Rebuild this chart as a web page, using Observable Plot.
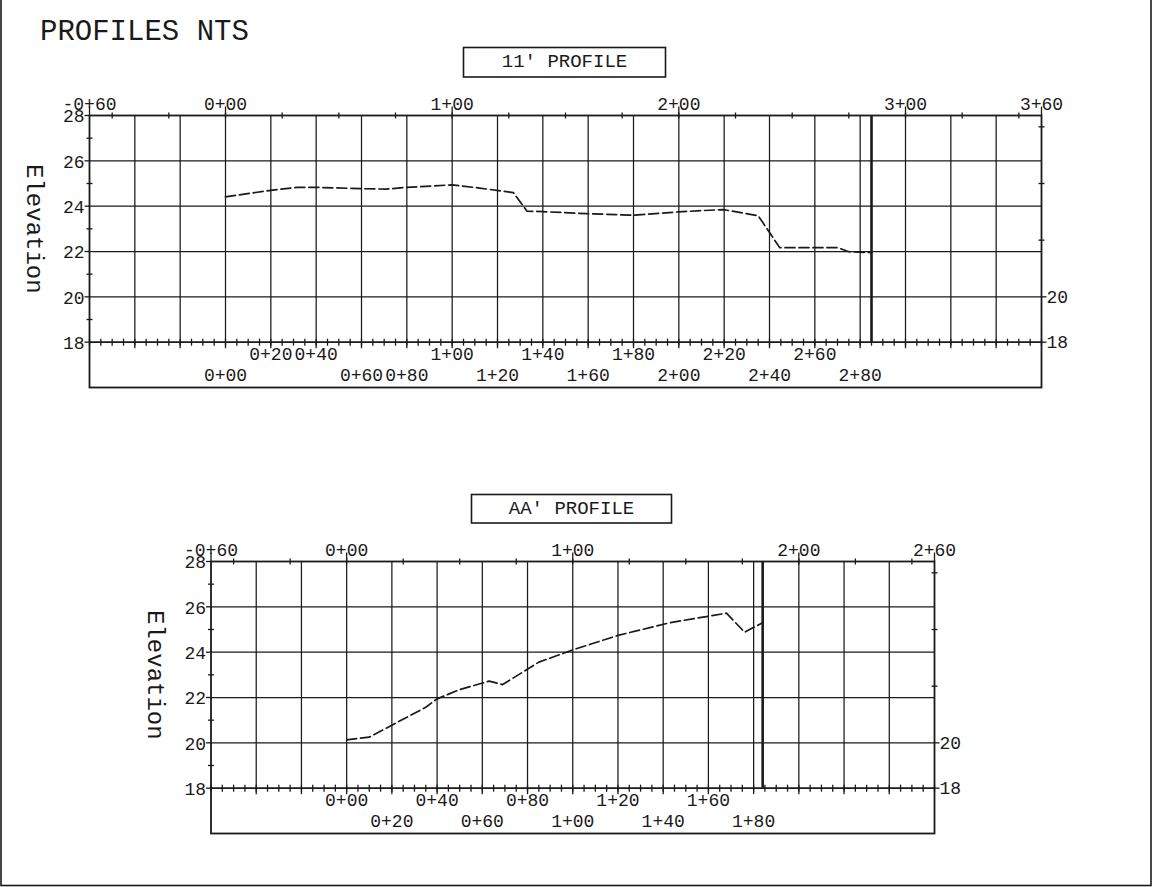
<!DOCTYPE html>
<html>
<head>
<meta charset="utf-8">
<script src="https://cdn.jsdelivr.net/npm/d3@7"></script>
<script src="https://cdn.jsdelivr.net/npm/@observablehq/plot@0.6"></script>
<style>
  html, body { margin: 0; padding: 0; background: #fff; }
  #page { position: relative; width: 1159px; height: 887px; overflow: hidden; background: #fff; }
  #page > svg.overlay { position: absolute; left: 0; top: 0; }
  .plotwrap { position: absolute; left: 0; }
</style>
</head>
<body>
<div id="page"></div>
<script>
// ---------------- DATA ----------------
const pageTitle = "PROFILES NTS";
const topTitle = "11' PROFILE";
const bottomTitle = "AA' PROFILE";
const yAxisLabel = "Elevation";

// 11' profile (station in ft, elevation)
const topStations = [0, 20, 31.6, 40, 61, 71, 80, 100, 112, 127, 133, 140, 159, 180, 200, 219.5, 235, 244.5, 270, 275, 285];
const topElev     = [24.41, 24.7, 24.83, 24.83, 24.77, 24.75, 24.83, 24.94, 24.8, 24.6, 23.78, 23.76, 23.67, 23.6, 23.75, 23.85, 23.58, 22.17, 22.17, 21.99, 21.95];
const topEnd = [285];

// AA' profile
const botStations = [0, 10, 35, 40, 50, 63, 69, 85, 100, 120, 143, 168, 176, 184];
const botElev     = [20.13, 20.25, 21.57, 21.94, 22.35, 22.72, 22.57, 23.56, 24.1, 24.74, 25.3, 25.72, 24.88, 25.3];
const botEnd = [184];

// station ranges
const topDomain = [-60, 360];
const botDomain = [-60, 260];

// tick label stations
const topTopLabels = [-60, 0, 100, 200, 300, 360];
const botTopLabels = [-60, 0, 100, 200, 260];
const topRowA = [20, 40, 100, 140, 180, 220, 260];
const topRowB = [0, 60, 80, 120, 160, 200, 240, 280];
const botRowA = [0, 40, 80, 120, 160];
const botRowB = [20, 60, 100, 140, 180];

const leftElevLabels = [18, 20, 22, 24, 26, 28];
const leftMinorTicks = [19, 21, 23, 25, 27];
const rightElevLabels = [18, 20];
const rightMinorTicks = [22.5, 25, 27.5];
const gridElev = [20, 22, 24, 26];
const elevDomain = [16, 28];   // frame includes the label box below elevation 18
const axisElev = 18;
const topElevFrame = 28;

// ---------------- HELPERS ----------------
const INK = "#1a1a1a";
const MONO = "Liberation Mono, DejaVu Sans Mono, monospace";
const fmtStation = s => {
  const a = Math.abs(s);
  return (s < 0 ? "-" : "") + Math.floor(a / 100) + "+" + String(a % 100).padStart(2, "0");
};
const seg = (x1, y1, x2, y2) => ({ draw(ctx) { ctx.moveTo(x1, y1); ctx.lineTo(x2, y2); } });

function profilePlot({domain, stations, elev, end, topLabels, rowA, rowB, marginLeft, marginRight}) {
  const [x0, x1] = domain;
  const grid20 = d3.range(x0 + 20, x1, 20);
  const ticks5 = d3.range(x0, x1 + 0.001, 5);
  const ticks25 = d3.range(Math.ceil(x0 / 25) * 25, x1 + 0.001, 25).filter(v => v > x0 && v < x1);
  const profile = stations.map((s, i) => ({s, e: elev[i]}));
  const tick = {stroke: INK, fill: "none", strokeWidth: 1.3};
  const txt = {fontFamily: MONO, fontSize: 18, fill: INK};
  return Plot.plot({
    width: 1100,
    height: 328,
    marginTop: 36,
    marginBottom: 20,
    marginLeft,
    marginRight,
    x: {domain, axis: null},
    y: {domain: elevDomain, axis: null},
    style: {background: "transparent", overflow: "visible"},
    marks: [
      // vertical grid
      Plot.ruleX(grid20, {y1: axisElev, y2: topElevFrame, stroke: INK, strokeWidth: 1.25}),
      // horizontal grid
      Plot.ruleY(gridElev, {x1: x0, x2: x1, stroke: INK, strokeWidth: 1.25}),
      // axis line at 18
      Plot.ruleY([axisElev], {x1: x0, x2: x1, stroke: INK, strokeWidth: 1.8}),
      // profile end line
      Plot.ruleX(end, {y1: axisElev, y2: topElevFrame, stroke: INK, strokeWidth: 2.6}),
      // profile
      Plot.line(profile, {x: "s", y: "e", stroke: INK, strokeWidth: 1.7, strokeDasharray: "10,4"}),
      // bottom axis ticks (5 ft) and major (20 ft)
      Plot.dot(ticks5, {x: d => d, y: axisElev, symbol: seg(0, -3.5, 0, 3.5), ...tick}),
      Plot.dot(grid20, {x: d => d, y: axisElev, symbol: seg(0, 0, 0, 6), ...tick}),
      // top axis ticks (25 ft) and labelled majors
      Plot.dot(ticks25, {x: d => d, y: topElevFrame, symbol: seg(0, -3, 0, 3), ...tick}),
      Plot.dot(topLabels, {x: d => d, y: topElevFrame, symbol: seg(0, -9, 0, 0), ...tick}),
      // left axis ticks
      Plot.dot(leftMinorTicks, {x: x0, y: d => d, symbol: seg(-3, 0, 3, 0), ...tick}),
      Plot.dot(leftElevLabels, {x: x0, y: d => d, symbol: seg(-5, 0, 0, 0), ...tick}),
      // right axis ticks
      Plot.dot(rightMinorTicks, {x: x1, y: d => d, symbol: seg(-3, 0, 3, 0), ...tick}),
      Plot.dot(rightElevLabels, {x: x1, y: d => d, symbol: seg(0, 0, 5, 0), ...tick}),
      // frame
      Plot.frame({stroke: INK, strokeWidth: 1.8}),
      // labels
      Plot.text(leftElevLabels, {x: x0, y: d => d, text: d => String(d), textAnchor: "end", dx: -5, dy: 1, ...txt}),
      Plot.text(rightElevLabels, {x: x1, y: d => d, text: d => String(d), textAnchor: "start", dx: 5, ...txt}),
      Plot.text(topLabels, {x: d => d, y: topElevFrame, text: fmtStation, lineAnchor: "bottom", dy: -6, ...txt}),
      Plot.text(rowA, {x: d => d, y: axisElev, text: fmtStation, dy: 12, ...txt}),
      Plot.text(rowB, {x: d => d, y: axisElev, text: fmtStation, dy: 33, ...txt}),
      Plot.text([yAxisLabel], {x: x0, y: (axisElev + topElevFrame) / 2, text: d => d, rotate: 90, dx: -55,
        fontFamily: MONO, fontSize: 24, fill: INK})
    ]
  });
}

// ---------------- BUILD ----------------
const page = document.getElementById("page");

const ns = "http://www.w3.org/2000/svg";
const over = document.createElementNS(ns, "svg");
over.setAttribute("class", "overlay");
over.setAttribute("width", 1159);
over.setAttribute("height", 887);
over.innerHTML = `
  <rect x="1" y="-1" width="1150" height="886.5" fill="none" stroke="${INK}" stroke-width="1.6"/>
  <text x="40" y="40" font-family="${MONO}" font-size="29" fill="${INK}">${pageTitle}</text>
  <rect x="463.5" y="47.5" width="202" height="29.5" fill="none" stroke="${INK}" stroke-width="1.6"/>
  <text x="564.5" y="66.5" text-anchor="middle" font-family="${MONO}" font-size="19" fill="${INK}">${topTitle}</text>
  <rect x="471.5" y="494.5" width="200" height="28.5" fill="none" stroke="${INK}" stroke-width="1.6"/>
  <text x="571.5" y="514" text-anchor="middle" font-family="${MONO}" font-size="19" fill="${INK}">${bottomTitle}</text>
`;
page.appendChild(over);

const w1 = document.createElement("div");
w1.className = "plotwrap"; w1.style.top = "79px";
w1.appendChild(profilePlot({domain: topDomain, stations: topStations, elev: topElev, end: topEnd,
  topLabels: topTopLabels, rowA: topRowA, rowB: topRowB, marginLeft: 89, marginRight: 59}));
page.appendChild(w1);

const w2 = document.createElement("div");
w2.className = "plotwrap"; w2.style.top = "525px";
w2.appendChild(profilePlot({domain: botDomain, stations: botStations, elev: botElev, end: botEnd,
  topLabels: botTopLabels, rowA: botRowA, rowB: botRowB, marginLeft: 210.5, marginRight: 166}));
page.appendChild(w2);
</script>
</body>
</html>
